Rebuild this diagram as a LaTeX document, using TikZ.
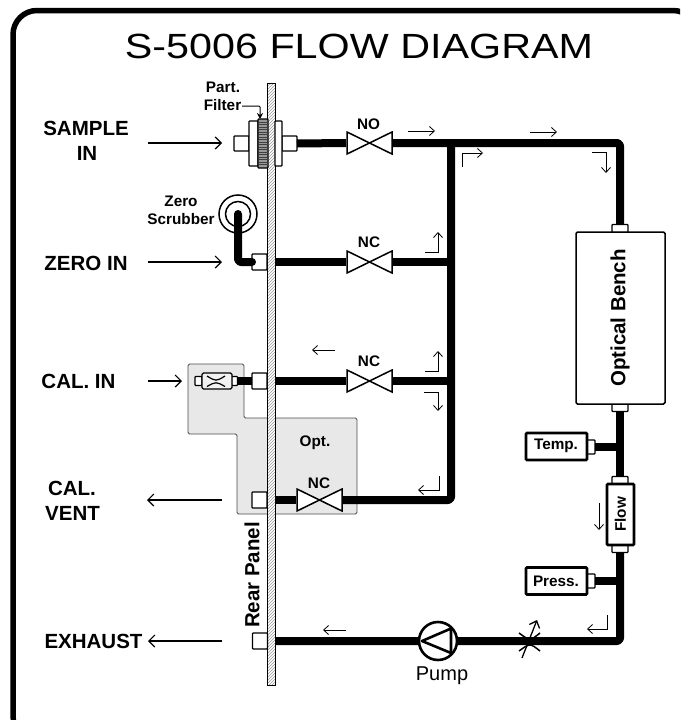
\documentclass[tikz,border=0pt]{standalone}
\usepackage{fontspec}
\usetikzlibrary{arrows.meta,patterns,shapes.geometric}
\setmainfont{Liberation Sans}
\newfontfamily\titlefont[FakeStretch=1.18]{Liberation Sans}
\definecolor{optgray}{HTML}{E8E8E8}
\tikzset{
  x=1pt,y=-1pt,
  lab/.style={font=\fontsize{20.5}{22}\selectfont\bfseries,inner sep=0pt},
  smalllab/.style={font=\fontsize{15.3}{17}\selectfont\bfseries,inner sep=0pt},
  pipe/.style={line width=8pt,line join=round},
  stubbox/.style={draw,fill=white,line width=1.2pt,rounded corners=0.8pt,inner sep=0pt,outer sep=0pt},
  sensor/.style={draw,fill=white,line width=2.6pt,rounded corners=1pt,inner sep=0pt,outer sep=0pt},
  valve/.style={minimum width=47pt,minimum height=24pt,inner sep=0pt,outer sep=0pt,
    path picture={\draw[line width=1.5pt,fill=white,line join=miter]
      ([xshift=1pt,yshift=-1pt]path picture bounding box.north west) --
      ([xshift=-1pt,yshift=1pt]path picture bounding box.south east) --
      ([xshift=-1pt,yshift=-1pt]path picture bounding box.north east) --
      ([xshift=1pt,yshift=1pt]path picture bounding box.south west) -- cycle;}},
  flowarrow/.style={line width=0.8pt,-{Straight Barb[length=5pt,width=9pt,line width=0.8pt]}},
  portarrow/.style={line width=1.2pt,-{Straight Barb[length=6pt,width=12pt,line width=1.2pt]}},
}
\begin{document}
\begin{tikzpicture}
\useasboundingbox (0,0) rectangle (680,720);
\begin{scope}
\clip (0,0) rectangle (680,720);
\draw[line width=5.5pt,rounded corners=24pt] (13,10.5) rectangle (697,740);
\end{scope}

\node[font=\titlefont\fontsize{35}{38}\selectfont,inner sep=0pt] (title) at (359,46) {S-5006 FLOW DIAGRAM};

% optional area
\draw[fill=optgray,draw=black!70,line width=0.9pt,rounded corners=1.5pt]
  (188,364) -- (244,364) -- (244,418) -- (357,418) -- (357,514) -- (237,514) -- (237,434) -- (188,434) -- cycle;

% rear panel
\node[draw,line width=0.9pt,preaction={fill=white},pattern=north east lines,pattern color=black!40,
  minimum width=7.5pt,minimum height=602pt,inner sep=0pt,outer sep=0pt] (panel) at (271.5,384) {};

% junction coordinates
\coordinate (jtop) at (451,143);
\coordinate (jzero) at (451,262);
\coordinate (jcal) at (451,381);

% components
\node[valve] (vno) at (369.5,143) {};
\node[valve] (vzero) at (369.5,262) {};
\node[valve] (vcal) at (369.5,381) {};
\node[valve] (vopt) at (319.5,500) {};

\node[circle,draw,line width=1.5pt,minimum size=38pt,inner sep=0pt] (scrub) at (238,214) {};
\node[circle,draw,line width=1.5pt,minimum size=25pt,inner sep=0pt] (scrubin) at (238,214) {};

\node[stubbox,minimum width=15pt,minimum height=16pt] (zbox) at (259.5,262) {};
\node[stubbox,minimum width=15pt,minimum height=16pt] (cbox) at (259.5,381) {};
\node[stubbox,minimum width=15pt,minimum height=16pt] (obox) at (259.5,500) {};
\node[stubbox,minimum width=15pt,minimum height=16pt] (ebox) at (260,641) {};

\node[stubbox,minimum width=15pt,minimum height=15pt] (fl) at (241.5,143.5) {};
\node[stubbox,minimum width=9pt,minimum height=45pt] (fll) at (253.5,143.5) {};
\node[stubbox,minimum width=15pt,minimum height=15pt] (frs) at (289.5,143.5) {};
\node[stubbox,minimum width=7pt,minimum height=45pt] (frf) at (278.5,143.5) {};
\node[stubbox,fill=black!40,minimum width=10pt,minimum height=49pt] (knurl) at (263,143.5) {};
\foreach \yy in {122,124.5,...,166}{\draw[black!75,line width=0.7pt] (258.5,\yy) -- (267.5,\yy);}

\node[stubbox,minimum width=16pt,minimum height=8pt] (bt) at (620,228.5) {};
\node[stubbox,minimum width=16pt,minimum height=8pt] (bb) at (620,407.5) {};
\node[draw,fill=white,line width=1.5pt,rounded corners=1.5pt,minimum width=89pt,minimum height=172pt,inner sep=0pt,outer sep=0pt] (bench) at (620.5,318) {};

\node[stubbox,minimum width=16pt,minimum height=8pt] (ft) at (620,480.5) {};
\node[stubbox,minimum width=16pt,minimum height=8pt] (fb) at (620,548.5) {};
\node[sensor,minimum width=27pt,minimum height=61pt] (flow) at (620.5,514.5) {};

\node[stubbox,minimum width=8pt,minimum height=14pt] (tstub) at (591,447) {};
\node[sensor,minimum width=61pt,minimum height=27pt] (temp) at (556.5,446.5) {};
\node[stubbox,minimum width=8pt,minimum height=14pt] (pstub) at (591,581) {};
\node[sensor,minimum width=61pt,minimum height=27pt] (press) at (556.5,581) {};

% cal restrictor
\node[stubbox,minimum width=7pt,minimum height=9pt] (rl) at (198.5,381) {};
\node[stubbox,minimum width=6pt,minimum height=9pt] (rr) at (234.5,381) {};
\node[draw,fill=black!5,line width=1.3pt,rounded corners=1.5pt,minimum width=30pt,minimum height=16pt,inner sep=0pt,outer sep=0pt] (calrest) at (217,381) {};
\draw[line width=1.2pt] (207,376) .. controls (216,381.5) .. (225,376);
\draw[line width=1.2pt] (207,386.5) .. controls (216,381.5) .. (225,386.5);

% pipes
\draw[pipe] (frs.east) -- (vno.west);
\draw[pipe,rounded corners=3pt] (vno.east) -| (bt.north);
\draw[pipe,rounded corners=3pt] (jtop) |- (vopt.east);
\draw[pipe] (zbox -| panel.east) -- (vzero.west);
\draw[pipe] (vzero.east) -- (jzero);
\draw[pipe] (cbox -| panel.east) -- (vcal.west);
\draw[pipe] (vcal.east) -- (jcal);
\draw[pipe] (rr.east) -- (cbox.west);
\draw[pipe] (obox -| panel.east) -- (vopt.west);
\draw[pipe,rounded corners=3pt,line cap=round] (scrub.center) |- (zbox.west);
\draw[pipe] (bb.south) -- (ft.north);
\draw[pipe] (tstub.east) -- (tstub -| bb);
\draw[pipe] (pstub.east) -- (pstub -| fb);
\draw[pipe,rounded corners=3pt] (fb.south) |- (ebox -| panel.east);

% pump
\node[circle,draw,fill=white,line width=2.6pt,minimum size=38pt,inner sep=0pt] (pump) at (438,641) {};
\draw[line width=2.6pt,line join=round] (422,641) -- (451,628.5) -- (451,653) -- cycle;
\node[font=\fontsize{20}{22}\selectfont,inner sep=0pt] (pumplab) at (442,676) {Pump};

% bottom restrictor
\coordinate (rva) at (522,658);
\coordinate (rvb) at (537,620);
\draw[line width=1.5pt] (519,633) .. controls (530,641) .. (540,633);
\draw[line width=1.5pt] (519,651) .. controls (530,643) .. (540,651);
\draw[line width=1.3pt,-{Straight Barb[length=6pt,width=11pt,line width=1.3pt]}] (rva) -- (rvb);

% filter leader
\coordinate (fa) at (242,106);
\draw[line width=1pt,rounded corners=1pt,-{Stealth[length=6pt,width=6pt]}] (fa) -| (knurl.north -| 260,0);

% texts
\node[smalllab] (part) at (223,87) {Part.};
\node[smalllab] (filt) at (222.5,105) {Filter};
\node[smalllab] (zero) at (181,201) {Zero};
\node[smalllab] (scr) at (181,219) {Scrubber};
\node[smalllab] (no) at (368.5,124) {NO};
\node[smalllab] (nc1) at (369,242) {NC};
\node[smalllab] (nc2) at (369,361) {NC};
\node[smalllab] (nc3) at (319,483) {NC};
\node[smalllab] (opt) at (315,443) {Opt.};
\node[smalllab] (tl) at (556,446) {Temp.};
\node[smalllab] (pl) at (556,581) {Press.};
\node[smalllab,rotate=90] (fll2) at (620.5,514.5) {Flow};
\node[lab,rotate=90] (ob) at (620,318) {Optical Bench};
\node[lab,rotate=90] (rp) at (252,575) {Rear Panel};
\node[lab] (sa) at (86,128) {SAMPLE};
\node[lab] (sb) at (87,153) {IN};
\node[lab] (zi) at (86,263) {ZERO IN};
\node[lab] (ci) at (78.5,381) {CAL. IN};
\node[lab] (va) at (72,488) {CAL.};
\node[lab] (vb) at (72.5,513) {VENT};
\node[lab] (ex) at (93.5,641) {EXHAUST};

% port arrows
\coordinate (a1) at (148,143); \coordinate (a2) at (222,143);
\coordinate (b1) at (148,262); \coordinate (b2) at (222,262);
\coordinate (c1) at (148,381); \coordinate (c2) at (182,381);
\coordinate (d1) at (222,500); \coordinate (d2) at (147,500);
\coordinate (e1) at (222,641); \coordinate (e2) at (148,641);
\draw[portarrow] (a1) -- (a2);
\draw[portarrow] (b1) -- (b2);
\draw[portarrow] (c1) -- (c2);
\draw[portarrow] (d1) -- (d2);
\draw[portarrow] (e1) -- (e2);

% flow indicators
\draw[flowarrow] (408,131) -- (435,131);
\draw[flowarrow] (530,132) -- (557,132);
\draw[flowarrow] (462,167) -- (462,153) -- (483,153);
\draw[flowarrow] (592,152) -- (606,152) -- (606,173);
\draw[flowarrow] (425,252) -- (438,252) -- (438,232);
\draw[flowarrow] (335,350) -- (312,350);
\draw[flowarrow] (425,371) -- (438,371) -- (438,351);
\draw[flowarrow] (424,392) -- (438,392) -- (438,411);
\draw[flowarrow] (439,476) -- (439,490) -- (418,490);
\draw[flowarrow] (599,503) -- (599,530);
\draw[flowarrow] (607,615) -- (607,629) -- (587,629);
\draw[flowarrow] (346,630) -- (323,630);
\end{tikzpicture}
\end{document}
